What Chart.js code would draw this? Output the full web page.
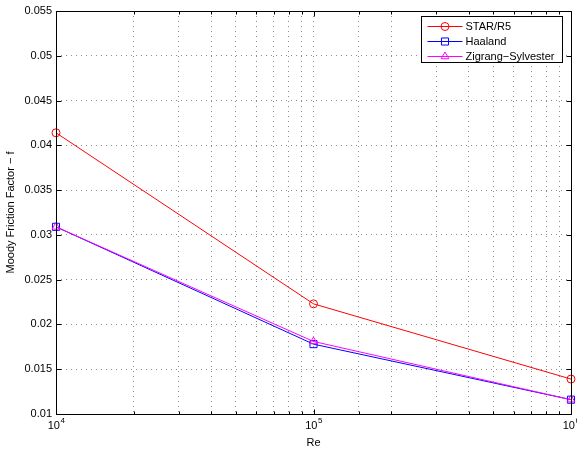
<!DOCTYPE html>
<html lang="en">
<head>
<meta charset="UTF-8">
<title>Moody Friction Factor vs Re</title>
<script src="https://cdn.jsdelivr.net/npm/chart.js"></script>
<style>
    html, body { margin: 0; padding: 0; background: #fff; }
    canvas { display: block; }
</style>
</head>
<body>
<canvas id="frictionChart" width="577" height="452"></canvas>
<script>
// Reynolds numbers and friction factors for each correlation
const reynolds = [1e4, 1e5, 1e6];
const starR5 = [0.0414, 0.0223, 0.0139];
const haaland = [0.0309, 0.0178, 0.0116];
const zigrang = [0.0309, 0.0181, 0.0116];
const seriesLabels = ['STAR/R5', 'Haaland', 'Zigrang\u2212Sylvester'];
const xMajorTicks = [1e4, 1e5, 1e6];
const yMin = 0.01, yMax = 0.055, yStep = 0.005;

const FONT = '"Liberation Sans", Arial, Helvetica, sans-serif';

const toPoints = (ys) => reynolds.map((x, i) => ({ x: x, y: ys[i] }));

// MATLAB style box, inward ticks, 10^n labels, axis titles and legend
const matlabAxes = {
    id: 'matlabAxes',
    afterDraw(chart) {
        const ctx = chart.ctx;
        const area = chart.chartArea;
        const xs = chart.scales.x;
        const ys = chart.scales.y;
        const L = Math.round(area.left) + 0.5, R = Math.round(area.right) + 0.5;
        const T = Math.round(area.top) + 0.5, B = Math.round(area.bottom) + 0.5;

        ctx.save();
        ctx.strokeStyle = '#000';
        ctx.lineWidth = 1;
        ctx.setLineDash([]);
        ctx.strokeRect(L, T, R - L, B - T);

        // x ticks (major and minor), top and bottom
        ctx.beginPath();
        xs.ticks.forEach(t => {
            const px = Math.round(xs.getPixelForValue(t.value)) + 0.5;
            const major = Math.abs(Math.log10(t.value) - Math.round(Math.log10(t.value))) < 1e-9;
            const len = major ? 5 : 3;
            ctx.moveTo(px, B); ctx.lineTo(px, B - len);
            ctx.moveTo(px, T); ctx.lineTo(px, T + len);
        });
        // y ticks, left and right
        for (let v = yMin; v <= yMax + 1e-9; v += yStep) {
            const py = Math.round(ys.getPixelForValue(v)) + 0.5;
            ctx.moveTo(L, py); ctx.lineTo(L + 5, py);
            ctx.moveTo(R, py); ctx.lineTo(R - 5, py);
        }
        ctx.stroke();

        // x tick labels as 10 with superscript exponent
        ctx.fillStyle = '#000';
        ctx.textBaseline = 'alphabetic';
        xMajorTicks.forEach(v => {
            const px = xs.getPixelForValue(v);
            const exp = String(Math.round(Math.log10(v)));
            ctx.font = '11px ' + FONT;
            const wBase = ctx.measureText('10').width;
            ctx.font = '8px ' + FONT;
            const wExp = ctx.measureText(exp).width;
            const start = px - (wBase + wExp) / 2;
            ctx.font = '11px ' + FONT;
            ctx.textAlign = 'left';
            ctx.fillText('10', start, B + 14);
            ctx.font = '8px ' + FONT;
            ctx.fillText(exp, start + wBase + 0.5, B + 8);
        });

        // axis titles
        ctx.font = '11px ' + FONT;
        ctx.textAlign = 'center';
        ctx.fillText('Re', (area.left + area.right) / 2, B + 31);
        ctx.save();
        ctx.translate(14, (area.top + area.bottom) / 2);
        ctx.rotate(-Math.PI / 2);
        ctx.fillText('Moody Friction Factor \u2212 f', 0, 0);
        ctx.restore();

        // legend
        const bw = 141, bh = 46;
        const bx = Math.round(area.right - 9 - bw) + 0.5;
        const by = Math.round(area.top + 5) + 0.5;
        ctx.fillStyle = '#fff';
        ctx.fillRect(bx, by, bw, bh);
        ctx.strokeStyle = '#000';
        ctx.strokeRect(bx, by, bw, bh);
        chart.data.datasets.forEach((ds, i) => {
            const ry = Math.round(by + 9.5 + i * 15) + 0.5;
            ctx.strokeStyle = ds.borderColor;
            ctx.lineWidth = 1;
            ctx.beginPath();
            ctx.moveTo(bx + 6, ry);
            ctx.lineTo(bx + 41, ry);
            ctx.stroke();
            ctx.fillStyle = 'rgba(0,0,0,0)';
            Chart.helpers.drawPoint(ctx, {
                pointStyle: ds.pointStyle,
                radius: ds.pointRadius,
                borderWidth: 1
            }, bx + 23.5, ry);
            ctx.fillStyle = '#000';
            ctx.font = '11px ' + FONT;
            ctx.textAlign = 'left';
            ctx.textBaseline = 'middle';
            ctx.fillText(ds.label, bx + 44, ry + 0.5);
        });
        ctx.restore();
    }
};

const makeDataset = (label, ys, color, style, radius, order) => ({
    label: label,
    data: toPoints(ys),
    borderColor: color,
    backgroundColor: 'rgba(0,0,0,0)',
    borderWidth: 1,
    pointStyle: style,
    pointRadius: radius,
    pointBorderWidth: 1,
    pointBackgroundColor: 'rgba(0,0,0,0)',
    tension: 0,
    fill: false,
    clip: false,
    order: order
});

const chart = new Chart(document.getElementById('frictionChart'), {
    type: 'line',
    data: {
        datasets: [
            makeDataset(seriesLabels[0], starR5, '#ff0000', 'circle', 4, 2),
            makeDataset(seriesLabels[1], haaland, '#0000ff', 'rect', 5, 1),
            makeDataset(seriesLabels[2], zigrang, '#ff00ff', 'triangle', 4.5, 0)
        ]
    },
    options: {
        responsive: false,
        animation: false,
        devicePixelRatio: 1,
        layout: { padding: { top: 11, right: 6, left: 0, bottom: 0 } },
        plugins: {
            legend: { display: false },
            tooltip: { enabled: false },
            title: { display: false }
        },
        scales: {
            x: {
                type: 'logarithmic',
                min: 1e4,
                max: 1e6,
                ticks: { display: false },
                grid: { color: '#8c8c8c', lineWidth: 1, drawTicks: false },
                border: { display: false, dash: [1, 4] },
                afterFit: (s) => { s.height = 38; }
            },
            y: {
                min: yMin,
                max: yMax,
                ticks: {
                    stepSize: yStep,
                    padding: 4,
                    color: '#000',
                    font: { family: FONT, size: 11 },
                    callback: (v) => String(Number(v.toFixed(3)))
                },
                grid: { color: '#8c8c8c', lineWidth: 1, drawTicks: false },
                border: { display: false, dash: [1, 4] },
                afterFit: (s) => { s.width = 56; }
            }
        }
    },
    plugins: [matlabAxes]
});
</script>
</body>
</html>
